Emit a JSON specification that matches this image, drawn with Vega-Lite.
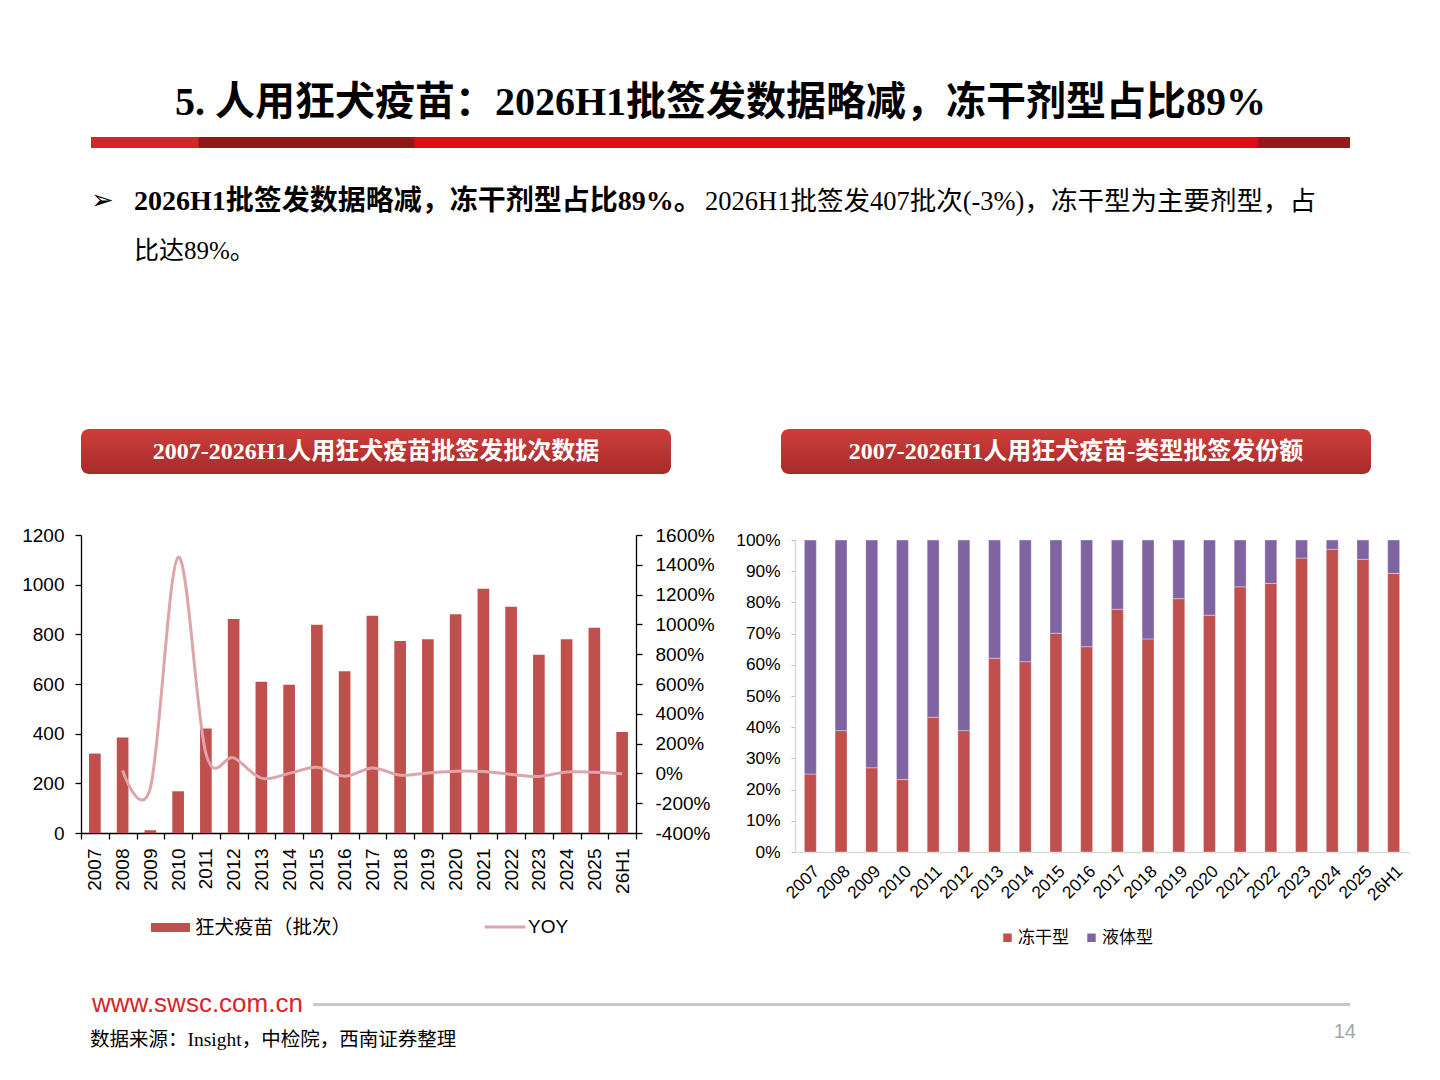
{
  "$schema": "https://vega.github.io/schema/vega-lite/v6.json",
  "background": "white",
  "padding": {"left": 21, "top": 83, "right": 10, "bottom": 10},
  "config": {"view": {"stroke": null}, "font": "Liberation Sans"},
  "datasets": {
    "batch": [
      {"year": "2007", "batches": 320, "yoy": null},
      {"year": "2008", "batches": 385, "yoy": 0.20},
      {"year": "2009", "batches": 11, "yoy": -0.97},
      {"year": "2010", "batches": 168, "yoy": 14.5},
      {"year": "2011", "batches": 421, "yoy": 1.35},
      {"year": "2012", "batches": 862, "yoy": 1.05},
      {"year": "2013", "batches": 609, "yoy": -0.32},
      {"year": "2014", "batches": 597, "yoy": 0.0},
      {"year": "2015", "batches": 839, "yoy": 0.41},
      {"year": "2016", "batches": 651, "yoy": -0.19},
      {"year": "2017", "batches": 875, "yoy": 0.36},
      {"year": "2018", "batches": 773, "yoy": -0.12},
      {"year": "2019", "batches": 780, "yoy": 0.03},
      {"year": "2020", "batches": 881, "yoy": 0.15},
      {"year": "2021", "batches": 984, "yoy": 0.13},
      {"year": "2022", "batches": 911, "yoy": -0.07},
      {"year": "2023", "batches": 718, "yoy": -0.2},
      {"year": "2024", "batches": 780, "yoy": 0.1},
      {"year": "2025", "batches": 827, "yoy": 0.07},
      {"year": "26H1", "batches": 407, "yoy": -0.03}
    ],
    "share": [
      {"year": "2007", "type": "冻干型", "share": 0.250}, {"year": "2007", "type": "液体型", "share": 0.750},
      {"year": "2008", "type": "冻干型", "share": 0.389}, {"year": "2008", "type": "液体型", "share": 0.611},
      {"year": "2009", "type": "冻干型", "share": 0.270}, {"year": "2009", "type": "液体型", "share": 0.730},
      {"year": "2010", "type": "冻干型", "share": 0.232}, {"year": "2010", "type": "液体型", "share": 0.768},
      {"year": "2011", "type": "冻干型", "share": 0.432}, {"year": "2011", "type": "液体型", "share": 0.568},
      {"year": "2012", "type": "冻干型", "share": 0.389}, {"year": "2012", "type": "液体型", "share": 0.611},
      {"year": "2013", "type": "冻干型", "share": 0.621}, {"year": "2013", "type": "液体型", "share": 0.379},
      {"year": "2014", "type": "冻干型", "share": 0.610}, {"year": "2014", "type": "液体型", "share": 0.390},
      {"year": "2015", "type": "冻干型", "share": 0.701}, {"year": "2015", "type": "液体型", "share": 0.299},
      {"year": "2016", "type": "冻干型", "share": 0.658}, {"year": "2016", "type": "液体型", "share": 0.342},
      {"year": "2017", "type": "冻干型", "share": 0.778}, {"year": "2017", "type": "液体型", "share": 0.222},
      {"year": "2018", "type": "冻干型", "share": 0.683}, {"year": "2018", "type": "液体型", "share": 0.317},
      {"year": "2019", "type": "冻干型", "share": 0.812}, {"year": "2019", "type": "液体型", "share": 0.188},
      {"year": "2020", "type": "冻干型", "share": 0.759}, {"year": "2020", "type": "液体型", "share": 0.241},
      {"year": "2021", "type": "冻干型", "share": 0.850}, {"year": "2021", "type": "液体型", "share": 0.150},
      {"year": "2022", "type": "冻干型", "share": 0.861}, {"year": "2022", "type": "液体型", "share": 0.139},
      {"year": "2023", "type": "冻干型", "share": 0.942}, {"year": "2023", "type": "液体型", "share": 0.058},
      {"year": "2024", "type": "冻干型", "share": 0.970}, {"year": "2024", "type": "液体型", "share": 0.030},
      {"year": "2025", "type": "冻干型", "share": 0.938}, {"year": "2025", "type": "液体型", "share": 0.062},
      {"year": "26H1", "type": "冻干型", "share": 0.893}, {"year": "26H1", "type": "液体型", "share": 0.107}
    ]
  },
  "bounds": "flush",
  "spacing": 0,
  "resolve": {"scale": {"color": "independent", "stroke": "independent"}, "legend": {"color": "independent", "stroke": "independent"}},
  "vconcat": [
    {
      "bounds": "flush", "spacing": 0,
      "hconcat": [
        {"width": 10, "height": 11, "mark": {"type": "point", "opacity": 0}, "encoding": {}},
        {
          "width": 1259, "height": 11,
          "view": {"stroke": null, "fill": {"gradient": "linear", "x1": 0, "y1": 0, "x2": 1, "y2": 0, "stops": [
            {"offset": 0, "color": "#D6242B"}, {"offset": 0.085, "color": "#D6242B"},
            {"offset": 0.086, "color": "#8E1A18"}, {"offset": 0.256, "color": "#8E1A18"},
            {"offset": 0.258, "color": "#E20A17"}, {"offset": 0.926, "color": "#E20A17"},
            {"offset": 0.928, "color": "#93191B"}, {"offset": 1, "color": "#93191B"}]}},
          "mark": {"type": "point", "opacity": 0}, "encoding": {},
          "title": {"text": "5. 人用狂犬疫苗：2026H1批签发数据略减，冻干剂型占比89%", "orient": "top", "anchor": "middle", "frame": "group",
            "font": "Liberation Serif, Noto Sans CJK SC", "fontSize": 40, "fontWeight": "bold", "color": "#000000", "offset": 14}
        }
      ]
    },
    {"width": 1, "height": 11, "mark": {"type": "point", "opacity": 0}, "encoding": {}},
    {
      "bounds": "flush", "spacing": 0,
      "hconcat": [
        {"width": 10, "height": 1, "mark": {"type": "point", "opacity": 0}, "encoding": {}},
        {"width": 43, "height": 1, "mark": {"type": "point", "opacity": 0}, "encoding": {},
          "title": {"text": "➢", "orient": "bottom", "anchor": "start", "frame": "group", "font": "DejaVu Sans", "fontSize": 27, "fontWeight": "normal", "color": "#000000", "offset": 39}},
        {"width": 571, "height": 1, "mark": {"type": "point", "opacity": 0}, "encoding": {},
          "title": {"text": "2026H1批签发数据略减，冻干剂型占比89%。", "orient": "bottom", "anchor": "start", "frame": "group",
            "font": "Liberation Serif, Noto Sans CJK SC", "fontSize": 28, "fontWeight": "bold", "color": "#000000", "offset": 39,
            "subtitle": "比达89%。", "subtitleFont": "Liberation Serif, Noto Sans CJK SC", "subtitleFontSize": 25, "subtitleColor": "#000000", "subtitleFontWeight": "normal", "subtitlePadding": 23}},
        {"width": 651, "height": 1, "mark": {"type": "point", "opacity": 0}, "encoding": {},
          "title": {"text": "2026H1批签发407批次(-3%)，冻干型为主要剂型，占", "orient": "bottom", "anchor": "start", "frame": "group",
            "font": "Liberation Serif, Noto Sans CJK SC", "fontSize": 26.5, "fontWeight": "normal", "color": "#000000", "offset": 40}}
      ]
    },
    {"width": 1, "height": 281, "mark": {"type": "point", "opacity": 0}, "encoding": {}},
    {
      "bounds": "flush", "spacing": 110,
      "hconcat": [
        {"width": 590, "height": 45,
          "data": {"values": [{"label": "2007-2026H1人用狂犬疫苗批签发批次数据"}]},
          "view": {"stroke": null, "cornerRadius": 8, "fill": {"gradient": "linear", "x1": 0, "y1": 0, "x2": 0, "y2": 1, "stops": [{"offset": 0, "color": "#CE3E3B"}, {"offset": 1, "color": "#A52C2A"}]}},
          "mark": {"type": "text", "font": "Liberation Serif, Noto Sans CJK SC", "fontSize": 24, "fontWeight": "bold", "color": "#FFFFFF", "align": "center", "baseline": "middle"},
          "encoding": {"text": {"field": "label", "type": "nominal"}}},
        {"width": 590, "height": 45,
          "data": {"values": [{"label": "2007-2026H1人用狂犬疫苗-类型批签发份额"}]},
          "view": {"stroke": null, "cornerRadius": 8, "fill": {"gradient": "linear", "x1": 0, "y1": 0, "x2": 0, "y2": 1, "stops": [{"offset": 0, "color": "#CE3E3B"}, {"offset": 1, "color": "#A52C2A"}]}},
          "mark": {"type": "text", "font": "Liberation Serif, Noto Sans CJK SC", "fontSize": 24, "fontWeight": "bold", "color": "#FFFFFF", "align": "center", "baseline": "middle"},
          "encoding": {"text": {"field": "label", "type": "nominal"}}}
      ]
    },
    {"width": 1, "height": 106, "mark": {"type": "point", "opacity": 0}, "encoding": {}},
    {
      "bounds": "flush", "spacing": 159,
      "resolve": {"scale": {"color": "independent", "stroke": "independent"}, "legend": {"color": "independent", "stroke": "independent"}},
      "hconcat": [
        {
          "width": 555, "height": 298,
          "data": {"name": "batch"},
          "layer": [
            {
              "mark": {"type": "bar", "width": {"band": 0.42}},
              "encoding": {
                "x": {"field": "year", "type": "ordinal", "sort": null, "scale": {"paddingInner": 0, "paddingOuter": 0},
                  "axis": {"title": null, "labelAngle": -90, "tickBand": "extent", "tickSize": 6, "tickColor": "#000000", "domainColor": "#000000", "domainWidth": 1.3, "tickWidth": 1.3,
                    "labelFont": "Liberation Sans", "labelFontSize": 19, "labelColor": "#000000", "labelPadding": 9}},
                "y": {"field": "batches", "type": "quantitative", "scale": {"domain": [0, 1200], "nice": false},
                  "axis": {"title": null, "grid": false, "format": "d", "values": [0, 200, 400, 600, 800, 1000, 1200], "tickSize": 6, "tickColor": "#000000", "domainColor": "#000000", "domainWidth": 1.3, "tickWidth": 1.3,
                    "labelFont": "Liberation Sans", "labelFontSize": 19, "labelColor": "#000000", "labelPadding": 11}},
                "color": {"datum": "狂犬疫苗（批次）", "type": "nominal", "scale": {"range": ["#C0504D"]},
                  "legend": {"orient": "none", "legendX": 70, "legendY": 373, "title": null, "padding": 0, "symbolType": "M-1,-0.23H1V0.23H-1Z", "symbolSize": 1521, "symbolStrokeWidth": 0,
                    "labelFont": "Noto Sans CJK SC", "labelFontSize": 19.5, "labelColor": "#000000", "labelOffset": 5}}
              }
            },
            {
              "mark": {"type": "line", "interpolate": "cardinal", "strokeWidth": 3},
              "encoding": {
                "x": {"field": "year", "type": "ordinal", "sort": null},
                "y": {"field": "yoy", "type": "quantitative", "scale": {"domain": [-4, 16], "nice": false},
                  "axis": {"orient": "right", "title": null, "grid": false, "labelExpr": "round(datum.value * 100) + '%'", "values": [-4, -2, 0, 2, 4, 6, 8, 10, 12, 14, 16], "tickSize": 6, "tickColor": "#000000", "domainColor": "#000000", "domainWidth": 1.3, "tickWidth": 1.3,
                    "labelFont": "Liberation Sans", "labelFontSize": 19, "labelColor": "#000000", "labelPadding": 13}},
                "stroke": {"datum": "YOY", "type": "nominal", "scale": {"range": ["#DDA4A9"]},
                  "legend": {"orient": "none", "legendX": 402, "legendY": 370, "title": null, "padding": 0, "symbolType": "M-1,0H1", "symbolSize": 1681, "symbolStrokeWidth": 3,
                    "labelFont": "Liberation Sans", "labelFontSize": 19, "labelColor": "#000000", "labelOffset": 1}}
              }
            }
          ],
          "resolve": {"scale": {"y": "independent"}}
        },
        {
          "bounds": "flush", "spacing": 4,
          "resolve": {"scale": {"color": "independent"}, "legend": {"color": "independent"}},
          "vconcat": [
            {"width": 1, "height": 1, "mark": {"type": "point", "opacity": 0}, "encoding": {}},
            {
              "width": 614, "height": 312,
              "data": {"name": "share"},
              "mark": {"type": "bar", "width": {"band": 0.39}, "stroke": "#FFFFFF", "strokeWidth": 0.6, "strokeOpacity": 0.6},
              "encoding": {
                "x": {"field": "year", "type": "ordinal", "sort": null, "scale": {"paddingInner": 0, "paddingOuter": 0},
                  "axis": {"title": null, "labelAngle": -45, "ticks": false, "domainColor": "#D9D9D9", "domainWidth": 1.5,
                    "labelFont": "Liberation Sans", "labelFontSize": 17.3, "labelColor": "#000000", "labelPadding": 10}},
                "y": {"field": "share", "type": "quantitative", "stack": "zero", "scale": {"domain": [0, 1], "nice": false},
                  "axis": {"title": null, "grid": false, "format": ".0%", "values": [0, 0.1, 0.2, 0.3, 0.4, 0.5, 0.6, 0.7, 0.8, 0.9, 1], "tickSize": 4, "tickColor": "#BFBFBF", "domainColor": "#D9D9D9", "domainWidth": 1.5,
                    "labelFont": "Liberation Sans", "labelFontSize": 17.3, "labelColor": "#000000", "labelPadding": 11}},
                "color": {"field": "type", "type": "nominal", "scale": {"domain": ["冻干型", "液体型"], "range": ["#C0504D", "#8064A2"]},
                  "legend": {"orient": "none", "legendX": 204, "legendY": 389, "direction": "horizontal", "title": null, "padding": 0, "symbolType": "square", "symbolSize": 72, "symbolStrokeWidth": 0,
                    "labelFont": "Noto Sans CJK SC", "labelFontSize": 17, "labelColor": "#000000", "labelOffset": 2, "columnPadding": 14}},
                "order": {"field": "type", "sort": "ascending"}
              }
            }
          ]
        }
      ]
    },
    {"width": 1, "height": 440, "mark": {"type": "point", "opacity": 0}, "encoding": {}},
    {"width": 1, "height": 1, "mark": {"type": "point", "opacity": 0}, "encoding": {},
      "title": {"text": "www.swsc.com.cn", "orient": "bottom", "anchor": "start", "frame": "group", "dx": 11,
        "font": "Liberation Sans", "fontSize": 26, "fontWeight": "normal", "color": "#D9252A", "offset": 15}},
    {"width": 1, "height": 27, "mark": {"type": "point", "opacity": 0}, "encoding": {}},
    {
      "bounds": "flush", "spacing": 0,
      "hconcat": [
        {"width": 232, "height": 3, "mark": {"type": "point", "opacity": 0}, "encoding": {}},
        {"width": 1037, "height": 3, "view": {"stroke": null, "fill": "#C8C8C8"},
          "mark": {"type": "point", "opacity": 0}, "encoding": {}}
      ]
    },
    {"width": 1, "height": 3, "mark": {"type": "point", "opacity": 0}, "encoding": {}},
    {
      "bounds": "flush", "spacing": 0,
      "hconcat": [
        {"width": 1100, "height": 1, "mark": {"type": "point", "opacity": 0}, "encoding": {},
          "title": {"text": "数据来源：Insight，中检院，西南证券整理", "orient": "bottom", "anchor": "start", "frame": "group", "dx": 9,
            "font": "Liberation Serif, Noto Sans CJK SC", "fontSize": 19.5, "fontWeight": "normal", "color": "#000000", "offset": 24}},
        {"width": 175, "height": 1, "mark": {"type": "point", "opacity": 0}, "encoding": {},
          "title": {"text": "14", "orient": "bottom", "anchor": "end", "frame": "group",
            "font": "Liberation Sans", "fontSize": 20, "fontWeight": "normal", "color": "#A6A6A6", "offset": 15}}
      ]
    }
  ]
}
